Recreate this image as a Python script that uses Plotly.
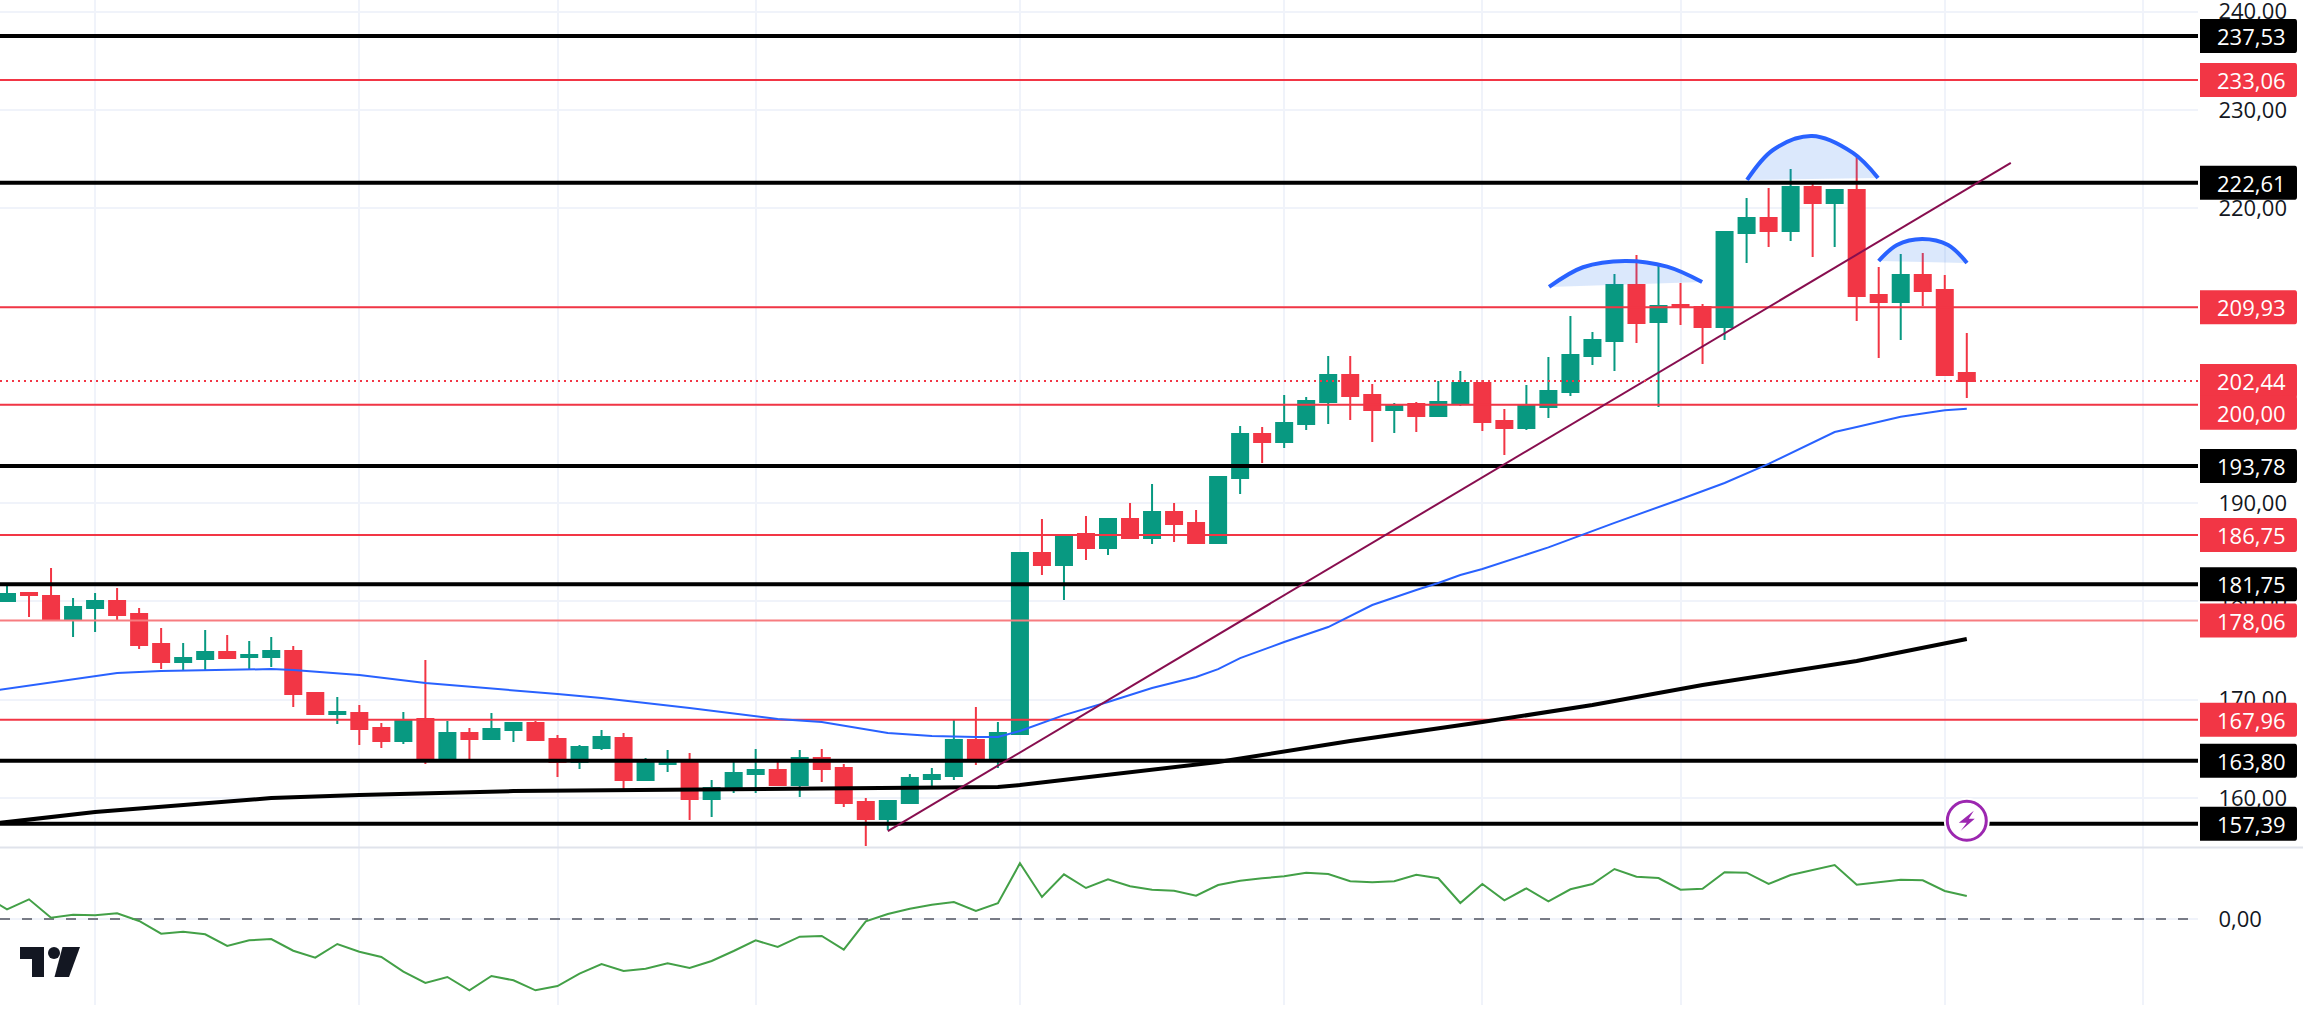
import plotly.graph_objects as go

# ---- candles (price) ----
opens = [180.05,180.86,180.56,178.11,179.34,180.05,178.73,175.67,173.84,174.15,174.86,174.35,174.35,174.96,170.68,168.55,168.65,167.12,165.80,168.04,
         163.97,166.61,166.00,166.92,167.63,166.00,163.66,165.09,166.10,161.83,163.46,163.56,159.90,160.92,162.44,162.85,161.32,164.07,163.05,159.59,
         157.86,159.49,161.93,162.24,165.90,163.97,166.51,184.93,183.71,186.86,185.44,188.39,186.46,189.10,187.98,185.95,192.56,197.04,196.23,198.06,
         200.30,203.04,201.01,199.48,200.09,198.87,200.19,202.23,198.36,197.65,199.79,201.31,204.97,206.50,212.20,208.43,210.16,209.96,207.92,217.48,
         219.01,217.69,222.16,220.53,221.86,211.17,210.46,213.21,211.68,203.25]
highs = [181.88,180.96,183.41,180.35,180.86,181.37,179.34,177.30,175.77,177.10,176.59,175.98,176.39,175.47,170.68,170.28,169.46,167.63,168.75,174.04,
         167.83,167.12,168.65,167.73,167.83,166.41,165.39,166.92,166.61,164.07,164.88,164.58,161.83,163.87,164.98,163.87,164.88,164.98,163.46,160.00,
         159.69,162.44,163.05,167.93,169.26,167.73,185.03,188.39,186.86,188.70,188.39,190.02,191.96,190.02,189.31,192.77,197.85,197.75,201.01,200.81,
         204.98,204.98,202.13,200.19,200.30,202.43,203.45,202.53,199.58,202.03,204.87,209.04,207.41,213.32,215.25,214.13,212.40,210.26,217.69,221.04,
         222.06,223.99,222.57,221.96,225.21,214.02,215.34,215.45,213.21,207.31]
lows = [180.05,178.42,178.11,176.39,176.89,178.11,175.16,173.13,173.03,173.03,174.15,173.13,173.33,169.26,168.55,167.53,165.39,165.09,165.49,163.46,
        163.66,163.97,166.00,165.70,165.80,162.14,162.95,164.88,160.81,161.73,162.64,157.76,158.07,160.51,160.51,161.32,160.10,161.63,159.08,155.11,
        156.74,159.39,161.02,161.83,163.36,163.05,166.41,182.69,180.15,184.22,184.73,186.46,185.85,186.05,185.95,185.95,190.94,194.09,195.62,197.45,
        198.06,198.47,196.23,197.14,197.24,198.87,199.89,197.35,194.90,197.45,198.67,200.91,204.06,203.45,206.30,199.79,208.13,204.16,206.60,214.43,
        216.06,216.67,215.04,216.06,208.53,204.77,206.60,210.06,203.03,200.70]
closes = [180.76,180.66,178.11,179.44,180.05,178.62,175.57,173.84,174.25,174.86,174.25,174.55,174.96,170.58,168.55,168.75,167.02,165.80,167.83,163.97,
          166.61,166.00,167.02,167.63,165.90,163.66,165.19,166.21,161.83,163.56,163.66,159.90,161.02,162.54,162.85,161.32,164.07,162.95,159.49,157.86,
          159.69,162.03,162.34,165.90,163.97,166.61,184.93,183.71,186.76,185.44,188.39,186.46,189.10,187.88,185.95,192.67,197.04,196.23,198.16,200.40,
          203.04,200.91,199.48,199.89,198.87,200.30,202.23,198.26,197.65,199.89,201.42,205.07,206.60,212.20,208.33,210.06,209.96,207.92,217.59,219.01,
          217.69,222.16,220.53,221.86,211.07,210.46,213.21,211.58,203.03,202.44]
candle_idx = list(range(len(opens)))

# ---- moving averages (read at these candles) ----
ma50_idx = [-1,4,5,7,12,13,16,19,23,25,27,31,35,37,40,42,44,45,46,48,50,52,54,55,56,58,60,62,64,65,66,67,70,73,76,78,80,82,83,84,86,88,89]
ma50_val = [170.8,172.41,172.72,172.92,173.12,173.02,172.51,171.70,170.99,170.58,170.17,169.16,168.04,167.73,166.61,166.31,166.21,166.21,166.82,168.44,169.77,171.19,172.31,173.12,174.24,175.87,177.40,179.64,181.17,181.88,182.69,183.30,185.50,188.00,190.40,192.05,194.00,196.12,197.24,197.75,198.79,199.45,199.60]
ma200_idx = [-1,4,12,16,23,37,45,46,55,61,67,72,77,84,89]
ma200_val = [157.30,158.57,160.00,160.30,160.71,161.02,161.12,161.32,163.66,165.80,167.73,169.46,171.50,173.94,176.18]

# ---- oscillator ----
osc_idx = list(range(-1, 90))
osc_val = [2.30,0.97,1.97,0.13,0.43,0.37,0.57,-0.20,-1.47,-1.27,-1.53,-2.70,-2.13,-2.00,-3.17,-3.87,-2.50,-3.27,-3.80,-5.27,-6.40,-5.80,-7.13,-5.70,-6.13,-7.13,-6.70,-5.47,-4.50,-5.20,-4.97,-4.43,-4.90,-4.20,-3.20,-2.13,-2.80,-1.77,-1.70,-3.07,-0.23,0.50,1.03,1.43,1.70,0.80,1.57,5.57,2.20,4.47,3.10,3.97,3.27,2.93,2.83,2.33,3.40,3.83,4.07,4.27,4.63,4.50,3.77,3.67,3.77,4.43,4.07,1.60,3.50,1.87,3.07,1.77,2.97,3.50,5.00,4.23,4.10,2.93,3.03,4.67,4.63,3.50,4.40,4.87,5.40,3.43,3.70,3.93,3.87,2.80,2.30]

# ---- levels and labels ----
red_levels = [233.06, 209.93, 200.00, 186.75, 167.96]
faint_levels = [178.06]
black_levels = [237.53, 222.61, 193.78, 181.75, 163.80, 157.39]
last_price = 202.44
price_ticks = [160, 170, 180, 190, 200, 210, 220, 230, 240]
osc_ticks = [0]
grid_idx = [4, 16, 25, 34, 46, 58, 67, 76, 88, 97]
trend_idx = [40, 91]
trend_val = [156.64, 224.61]
event_idx = [89]
event_val = [157.69]

arc_idx = [[70.03,71.57,73.48,75.39,76.98],[79.02,80.2,81.97,83.83,84.97],[85.0,85.83,86.97,88.15,89.01]]
arc_val = [[212.0,214.0,214.64,214.06,212.5],[222.88,225.93,227.35,225.63,223.08],[214.64,216.27,216.88,216.27,214.44]]

X_MIN, X_MAX = -0.318, 99.5
GREEN, RED, BLUE = "#089981", "#f23645", "#2962ff"
W, H = 2303, 1017
PANE_R = 2198
FONT = "Open Sans"


def hline(v, color, width, dash="solid", yaxis="y"):
    return go.Scatter(x=[X_MIN, X_MAX], y=[v, v], mode="lines", yaxis=yaxis, hoverinfo="skip",
                      line=dict(color=color, width=width, dash=dash), showlegend=False)


fig = go.Figure()
for v in faint_levels:
    fig.add_trace(hline(v, "#f77c80", 2))
for v in red_levels:
    fig.add_trace(hline(v, RED, 2))
for v in black_levels:
    fig.add_trace(hline(v, "#000000", 4))

fig.add_trace(go.Scatter(x=ma50_idx, y=ma50_val, mode="lines", line=dict(color=BLUE, width=2), showlegend=False, hoverinfo="skip"))
fig.add_trace(go.Scatter(x=ma200_idx, y=ma200_val, mode="lines", line=dict(color="#000000", width=4), showlegend=False, hoverinfo="skip"))
fig.add_trace(go.Scatter(x=trend_idx, y=trend_val, mode="lines", line=dict(color="#880e4f", width=2), showlegend=False, hoverinfo="skip"))

for xs, ys in zip(arc_idx, arc_val):
    fig.add_trace(go.Scatter(x=xs, y=ys, mode="lines", fill="toself", fillcolor="rgba(41,120,235,0.17)",
                             line=dict(color=BLUE, width=4, shape="spline", smoothing=1), showlegend=False, hoverinfo="skip"))

fig.add_trace(go.Candlestick(
    x=candle_idx, open=opens, high=highs, low=lows, close=closes, whiskerwidth=0, showlegend=False,
    increasing=dict(line=dict(color=GREEN, width=2), fillcolor=GREEN),
    decreasing=dict(line=dict(color=RED, width=2), fillcolor=RED)))

fig.add_trace(hline(last_price, RED, 2, dash="2px,4px"))

# event badge
fig.add_trace(go.Scatter(x=event_idx, y=event_val, mode="markers", marker=dict(size=46, color="#ffffff"), showlegend=False, hoverinfo="skip"))
fig.add_trace(go.Scatter(x=event_idx, y=event_val, mode="markers", marker=dict(size=39, color="#ffffff", line=dict(color="#9c27b0", width=3)), showlegend=False, hoverinfo="skip"))

# oscillator pane
fig.add_trace(hline(0, "#787b86", 2, dash="10px,12px", yaxis="y2"))
fig.add_trace(go.Scatter(x=osc_idx, y=osc_val, yaxis="y2", mode="lines", line=dict(color="#43a047", width=2), showlegend=False, hoverinfo="skip"))

shapes = []
annotations = []
labels = [(v, RED, 0) for v in red_levels if v != 200.00] + [(v, RED, 0) for v in faint_levels] + \
         [(v, "#000000", 0) for v in black_levels] + [(last_price, RED, 0), (200.00, RED, -8)]
for v, col, shift in labels:
    x0, x1, t, b, r = 2, 100, 17 + shift, -17 + shift, 3
    path = (f"M {x0} {t} L {x1-r} {t} Q {x1-1} {t} {x1-1} {t-r} L {x1-1} {b+r} "
            f"Q {x1-1} {b} {x1-r} {b} L {x0} {b} Z")
    shapes.append(dict(type="path", layer="above", xref="paper", yref="y", xsizemode="pixel", ysizemode="pixel",
                       xanchor=PANE_R / W, yanchor=v, path=path, fillcolor=col, line=dict(width=0)))
    annotations.append(dict(xref="paper", yref="y", x=2216 / W, y=v, xanchor="left", yanchor="middle", yshift=shift,
                            showarrow=False, text=f"{v:.2f}".replace(".", ","),
                            font=dict(family=FONT, size=22, color="#ffffff"), borderpad=0))

# lightning bolt inside the badge
shapes.append(dict(type="path", layer="above", xref="x", yref="y", xsizemode="pixel", ysizemode="pixel",
                   xanchor=event_idx[0], yanchor=event_val[0], path="M 7 10 L -8 -2 L 0 -2 L -6 -10 L 8 2 L 2 2 Z",
                   fillcolor="#9c27b0", line=dict(width=0)))
# pane separator
shapes.append(dict(type="line", layer="above", xref="paper", yref="paper", x0=0, x1=1, y0=1 - 847.5 / H, y1=1 - 847.5 / H,
                   line=dict(color="#e0e3eb", width=2)))
# logo
for p in ["M 20 70 L 44 70 L 44 40 L 32 40 L 32 58 L 20 58 Z", "M 62.5 70 L 80 70 L 69 40 L 54.5 40 Z"]:
    shapes.append(dict(type="path", layer="above", xref="paper", yref="paper", xsizemode="pixel", ysizemode="pixel",
                       xanchor=0, yanchor=0, path=p, fillcolor="#131722", line=dict(width=0)))
shapes.append(dict(type="circle", layer="above", xref="paper", yref="paper", xsizemode="pixel", ysizemode="pixel",
                   xanchor=0, yanchor=0, x0=48, x1=60, y0=58, y1=70, fillcolor="#131722", line=dict(width=0)))

GRID = "#f0f3fa"
fig.update_layout(
    width=W, height=H, margin=dict(l=0, r=0, t=0, b=0, autoexpand=False), autosize=False,
    paper_bgcolor="#ffffff", plot_bgcolor="#ffffff", showlegend=False, separators=",.",
    boxmode="overlay", boxgap=0.273, boxgroupgap=0, hovermode=False,
    font=dict(family=FONT, color="#131722", size=22),
    shapes=shapes, annotations=annotations,
    xaxis=dict(domain=[0, PANE_R / W], range=[X_MIN, X_MAX], type="linear", rangeslider=dict(visible=False),
               tickmode="array", tickvals=grid_idx, showticklabels=False, ticks="", showgrid=True,
               gridcolor=GRID, gridwidth=2, zeroline=False, showline=False),
    yaxis=dict(domain=[1 - 847 / H, 1], range=[155.02, 241.19], side="right", tickmode="array", tickvals=price_ticks,
               tickformat=".2f", ticks="outside", ticklen=15, tickcolor="#ffffff", tickwidth=1, showgrid=True,
               gridcolor=GRID, gridwidth=2, zeroline=False, showline=False, ticklabeloverflow="allow", automargin=False,
               tickfont=dict(family=FONT, size=22, color="#131722")),
    yaxis2=dict(domain=[1 - 1005 / H, 1 - 848 / H], range=[-8.6, 7.1], side="right", anchor="x", tickmode="array", tickvals=osc_ticks,
                tickformat=".2f", ticks="outside", ticklen=15, tickcolor="#ffffff", tickwidth=1, showgrid=True,
                gridcolor=GRID, gridwidth=2, zeroline=False, showline=False, ticklabeloverflow="allow", automargin=False,
                tickfont=dict(family=FONT, size=22, color="#131722")),
)

fig.write_html("out.html", config=dict(displayModeBar=False),
               post_script="document.body.style.margin='0';document.body.style.overflow='hidden';")
